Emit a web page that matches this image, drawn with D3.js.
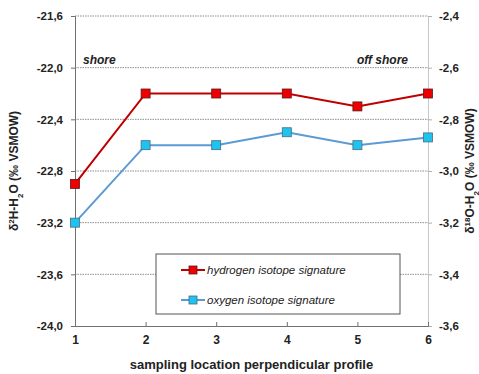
<!DOCTYPE html>
<html>
<head>
<meta charset="utf-8">
<script src="https://cdn.jsdelivr.net/npm/d3@7"></script>
<style>
  html, body { margin: 0; padding: 0; background: #fff; }
  svg { display: block; font-family: "Liberation Sans", Arial, sans-serif; }
</style>
</head>
<body>
<svg id="chart" width="479" height="374"></svg>
<script>
// Sampling locations along the perpendicular profile
const locations = [1, 2, 3, 4, 5, 6];
// δ2H-H2O (‰ VSMOW), left axis
const hydrogen = [-22.9, -22.2, -22.2, -22.2, -22.3, -22.2];
// δ18O-H2O (‰ VSMOW), right axis
const oxygen = [-3.2, -2.9, -2.9, -2.85, -2.9, -2.87];
// Tick values
const leftTicks = [-24.0, -23.6, -23.2, -22.8, -22.4, -22.0, -21.6];
const rightTicks = [-3.6, -3.4, -3.2, -3.0, -2.8, -2.6, -2.4];
const seriesNames = ["hydrogen isotope signature", "oxygen isotope signature"];

const svg = d3.select("#chart");
const m = { left: 75, right: 428, top: 16, bottom: 326 };

const x = d3.scaleLinear().domain([1, 6]).range([m.left, m.right]);
const yL = d3.scaleLinear().domain([-24.0, -21.6]).range([m.bottom, m.top]);
const yR = d3.scaleLinear().domain([-3.6, -2.4]).range([m.bottom, m.top]);

const fmt = v => v.toFixed(1).replace(".", ",");

// Horizontal dotted grid lines
svg.append("g").selectAll("line").data(leftTicks.slice(1)).join("line")
  .attr("x1", m.left).attr("x2", m.right)
  .attr("y1", d => yL(d)).attr("y2", d => yL(d))
  .attr("stroke", "#8c8c8c").attr("stroke-width", 1)
  .attr("stroke-dasharray", "1.5,1");

// Left axis
const gL = svg.append("g").attr("transform", `translate(${m.left},0)`)
  .call(d3.axisLeft(yL).tickValues(leftTicks).tickFormat(fmt).tickSize(4).tickPadding(8));
gL.select(".domain").attr("stroke", "#707070");
gL.selectAll(".tick line").attr("stroke", "#707070");
gL.selectAll("text").attr("font-size", 11.5).attr("font-weight", "bold").attr("fill", "#222");

// Right axis
const gR = svg.append("g").attr("transform", `translate(${m.right},0)`)
  .call(d3.axisRight(yR).tickValues(rightTicks).tickFormat(fmt).tickSize(4).tickPadding(7));
gR.select(".domain").attr("stroke", "#c8c8c8");
gR.selectAll(".tick line").attr("stroke", "#b0b0b0");
gR.selectAll("text").attr("font-size", 11.5).attr("font-weight", "bold").attr("fill", "#222");

// Bottom axis
const gX = svg.append("g").attr("transform", `translate(0,${m.bottom})`)
  .call(d3.axisBottom(x).tickValues(locations).tickFormat(d3.format("d")).tickSize(-4).tickPadding(9));
gX.select(".domain").attr("stroke", "#707070");
gX.selectAll(".tick line").attr("stroke", "#707070");
gX.selectAll("text").attr("font-size", 12).attr("font-weight", "bold").attr("fill", "#222");

// Axis titles
svg.append("text")
  .attr("transform", `translate(18,${(m.top + m.bottom) / 2}) rotate(-90)`)
  .attr("text-anchor", "middle").attr("font-size", 12).attr("font-weight", "bold").attr("fill", "#222")
  .html('δ<tspan baseline-shift="super" font-size="8">2</tspan>H-H<tspan baseline-shift="sub" font-size="8">2</tspan>O (‰ VSMOW)');
svg.append("text")
  .attr("transform", `translate(474,${(m.top + m.bottom) / 2}) rotate(-90)`)
  .attr("text-anchor", "middle").attr("font-size", 12).attr("font-weight", "bold").attr("fill", "#222")
  .html('δ<tspan baseline-shift="super" font-size="8">18</tspan>O-H<tspan baseline-shift="sub" font-size="8">2</tspan>O (‰ VSMOW)');
svg.append("text")
  .attr("x", (m.left + m.right) / 2).attr("y", 369)
  .attr("text-anchor", "middle").attr("font-size", 13).attr("font-weight", "bold").attr("fill", "#222")
  .text("sampling location perpendicular profile");

// Shore annotations
svg.append("text").attr("x", 83).attr("y", 64)
  .attr("font-size", 12).attr("font-weight", "bold").attr("font-style", "italic").attr("fill", "#222")
  .text("shore");
svg.append("text").attr("x", 408).attr("y", 64).attr("text-anchor", "end")
  .attr("font-size", 12).attr("font-weight", "bold").attr("font-style", "italic").attr("fill", "#222")
  .text("off shore");

// Series
const series = [
  { name: seriesNames[0], values: hydrogen, y: yL, line: "#c00000", fill: "#ee0000", edge: "#5a1a1a" },
  { name: seriesNames[1], values: oxygen, y: yR, line: "#5b9bd5", fill: "#1ec4f0", edge: "#4a6a80" }
];

series.forEach(s => {
  const pts = locations.map((loc, i) => [loc, s.values[i]]);
  svg.append("path")
    .attr("d", d3.line().x(d => x(d[0])).y(d => s.y(d[1]))(pts))
    .attr("fill", "none").attr("stroke", s.line).attr("stroke-width", 2);
  svg.append("g").selectAll("rect").data(pts).join("rect")
    .attr("x", d => x(d[0]) - 4.5).attr("y", d => s.y(d[1]) - 4.5)
    .attr("width", 9).attr("height", 9)
    .attr("fill", s.fill).attr("stroke", s.edge).attr("stroke-width", 0.8);
});

// Legend
const lg = svg.append("g").attr("transform", "translate(156,254)");
lg.append("rect").attr("width", 244).attr("height", 60)
  .attr("fill", "#fff").attr("stroke", "#555").attr("stroke-width", 1);
series.forEach((s, i) => {
  const yy = 16 + i * 30;
  lg.append("line").attr("x1", 25).attr("x2", 49).attr("y1", yy).attr("y2", yy)
    .attr("stroke", s.line).attr("stroke-width", 2);
  lg.append("rect").attr("x", 33).attr("y", yy - 4).attr("width", 8).attr("height", 8)
    .attr("fill", s.fill).attr("stroke", s.edge).attr("stroke-width", 0.8);
  lg.append("text").attr("x", 51).attr("y", yy + 4)
    .attr("font-size", 11.5).attr("font-style", "italic").attr("fill", "#222")
    .text(s.name);
});
</script>
</body>
</html>
